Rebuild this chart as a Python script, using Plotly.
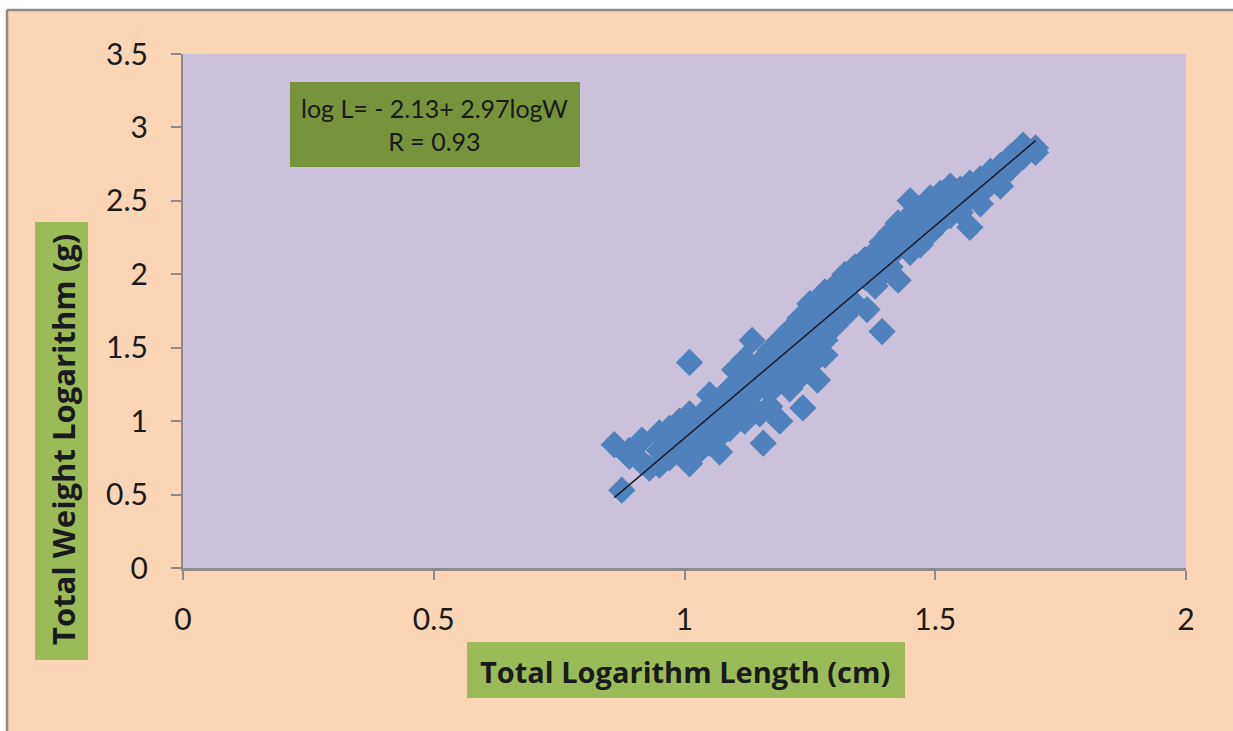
import numpy as np
import plotly.graph_objects as go

# ---- data ----
log_length = [
    0.86, 0.875, 0.89, 0.89, 0.915, 0.915, 0.93,
    0.95, 0.95, 0.95, 0.97, 0.97, 0.97, 0.99, 0.99, 0.99,
    1.01, 1.01, 1.01, 1.01, 1.01, 1.03, 1.03, 1.03,
    1.05, 1.05, 1.05, 1.05, 1.07, 1.07, 1.07, 1.07,
    1.09, 1.09, 1.09, 1.10, 1.10,
    1.12, 1.12, 1.12, 1.12, 1.135, 1.135, 1.135,
    1.15, 1.15, 1.15, 1.157, 1.17, 1.17, 1.17, 1.17,
    1.19, 1.19, 1.19, 1.19, 1.21, 1.21, 1.21, 1.21,
    1.23, 1.23, 1.23, 1.23, 1.236, 1.25, 1.25, 1.25, 1.25,
    1.265, 1.265, 1.265, 1.28, 1.28, 1.28, 1.28,
    1.30, 1.30, 1.30, 1.32, 1.32, 1.32, 1.34, 1.34, 1.34,
    1.36, 1.36, 1.364, 1.38, 1.38, 1.38, 1.394, 1.394, 1.394,
    1.41, 1.41, 1.41, 1.426, 1.426, 1.426,
    1.45, 1.45, 1.45, 1.45, 1.47, 1.47, 1.47, 1.49, 1.49, 1.49,
    1.51, 1.51, 1.51, 1.53, 1.53, 1.53, 1.55, 1.55, 1.55,
    1.569, 1.569, 1.569, 1.59, 1.59, 1.59, 1.61, 1.61,
    1.63, 1.63, 1.63, 1.65, 1.65, 1.675, 1.675, 1.70, 1.70,
]
log_weight = [
    0.84, 0.53, 0.76, 0.80, 0.87, 0.72, 0.68,
    0.80, 0.92, 0.70, 0.85, 0.95, 0.75, 0.88, 1.00, 0.78,
    1.40, 0.71, 0.95, 1.05, 0.85, 0.90, 1.02, 0.80,
    1.10, 1.18, 0.95, 0.85, 1.00, 1.12, 0.79, 0.90,
    1.22, 1.05, 0.95, 1.35, 1.15,
    1.42, 1.25, 1.10, 1.00, 1.55, 1.30, 1.18,
    1.40, 1.25, 1.05, 0.85, 1.48, 1.35, 1.20, 1.10,
    1.55, 1.40, 1.28, 1.00, 1.62, 1.50, 1.35, 1.22,
    1.70, 1.55, 1.42, 1.30, 1.09, 1.80, 1.65, 1.50, 1.38,
    1.75, 1.60, 1.28, 1.88, 1.70, 1.55, 1.45,
    1.92, 1.80, 1.65, 2.00, 1.85, 1.72, 2.05, 1.95, 1.80,
    2.10, 1.98, 1.76, 2.15, 2.05, 1.92, 2.22, 1.61, 2.00,
    2.28, 2.12, 2.05, 1.96, 2.20, 2.35,
    2.50, 2.40, 2.28, 2.15, 2.45, 2.35, 2.20, 2.52, 2.40, 2.28,
    2.55, 2.45, 2.35, 2.60, 2.50, 2.40, 2.58, 2.48, 2.42,
    2.32, 2.62, 2.52, 2.65, 2.55, 2.48, 2.70, 2.62,
    2.74, 2.68, 2.60, 2.80, 2.72, 2.88, 2.80, 2.86, 2.83,
]
x_ticks = [0, 0.5, 1, 1.5, 2]
x_tick_text = ["0", "0.5", "1", "1.5", "2"]
y_ticks = [0, 0.5, 1, 1.5, 2, 2.5, 3, 3.5]
y_tick_text = ["0", "0.5", "1", "1.5", "2", "2.5", "3", "3.5"]
x_title = "Total Logarithm Length (cm)"
y_title = "Total Weight Logarithm (g)"
equation_text = "log L= - 2.13+ 2.97logW<br>R = 0.93"

# ---- trend line (least squares on the data) ----
xa = np.array(log_length)
ya = np.array(log_weight)
slope, intercept = np.polyfit(xa, ya, 1)
trend_x = np.array([xa.min(), xa.max()])
trend_y = intercept + slope * trend_x

PEACH = "#FCD5B5"
LAVENDER = "#CCC1DA"
BLUE = "#4F81BD"
GREEN_DARK = "#77933C"
GREEN = "#9BBB59"
GRAY = "#8C8C8C"
TICKFONT = dict(family="Lato, Calibri, sans-serif", size=30, color="#1A1A1A")

fig = go.Figure()
fig.add_trace(go.Scatter(
    x=log_length, y=log_weight, mode="markers",
    marker=dict(symbol="diamond", size=21, color=BLUE, line=dict(width=0)),
    hoverinfo="skip", showlegend=False,
))
fig.add_trace(go.Scatter(
    x=trend_x, y=trend_y, mode="lines",
    line=dict(color="#1B1B2B", width=1.5),
    hoverinfo="skip", showlegend=False,
))

# pixel -> paper helpers (plot area: 183..1186 x 54..568)
L, R, T, B = 183, 1186, 54, 568
def px(xp):
    return (xp - L) / (R - L)
def py(yp):
    return (B - yp) / (B - T)

shapes = [
    # white outside strips + gray frame of the chart panel
    dict(type="rect", xref="paper", yref="paper", x0=px(-5), x1=px(1240), y0=py(10), y1=py(-5),
         fillcolor="white", line=dict(width=0), layer="above"),
    dict(type="rect", xref="paper", yref="paper", x0=px(-5), x1=px(7), y0=py(740), y1=py(-5),
         fillcolor="white", line=dict(width=0), layer="above"),
    dict(type="line", xref="paper", yref="paper", x0=px(7), x1=px(1240), y0=py(10), y1=py(10),
         line=dict(color=GRAY, width=2.5)),
    dict(type="line", xref="paper", yref="paper", x0=px(7), x1=px(7), y0=py(10), y1=py(740),
         line=dict(color=GRAY, width=2.5)),
    # equation box
    dict(type="rect", xref="paper", yref="paper", x0=px(290), x1=px(580), y0=py(167), y1=py(82),
         fillcolor=GREEN_DARK, line=dict(width=0), layer="above"),
    # y-title box
    dict(type="rect", xref="paper", yref="paper", x0=px(35), x1=px(88), y0=py(660), y1=py(222),
         fillcolor=GREEN, line=dict(width=0)),
    # x-title box
    dict(type="rect", xref="paper", yref="paper", x0=px(467), x1=px(905), y0=py(698), y1=py(642),
         fillcolor=GREEN, line=dict(width=0)),
]

annotations = [
    dict(xref="paper", yref="paper", x=px(434), y=py(125), text=equation_text,
         showarrow=False, align="center", xanchor="center", yanchor="middle",
         font=dict(family="Lato, Calibri, sans-serif", size=25, color="#1A1A1A")),
    dict(xref="paper", yref="paper", x=px(63), y=py(440), text="<b>" + y_title + "</b>",
         showarrow=False, textangle=-90, xanchor="center", yanchor="middle",
         font=dict(family="Open Sans, Verdana, sans-serif", size=31, color="#1A1A1A")),
    dict(xref="paper", yref="paper", x=px(685), y=py(671), text="<b>" + x_title + "</b>",
         showarrow=False, xanchor="center", yanchor="middle",
         font=dict(family="Open Sans, Calibri, sans-serif", size=29, color="#1A1A1A")),
]

fig.update_layout(
    width=1233, height=731,
    margin=dict(l=L, r=1233 - R, t=T, b=731 - B, pad=0),
    paper_bgcolor=PEACH, plot_bgcolor=LAVENDER,
    shapes=shapes, annotations=annotations,
    showlegend=False, hovermode=False,
)
fig.update_xaxes(
    range=[0, 2], tickvals=x_ticks, ticktext=x_tick_text,
    showgrid=False, zeroline=False,
    showline=True, linecolor=GRAY, linewidth=2.5,
    ticks="outside", ticklen=9, tickcolor=GRAY, tickwidth=1.5,
    tickfont=TICKFONT, ticklabelstandoff=14,
)
fig.update_yaxes(
    range=[0, 3.5], tickvals=y_ticks, ticktext=y_tick_text,
    showgrid=False, zeroline=False,
    showline=True, linecolor=GRAY, linewidth=2,
    ticks="outside", ticklen=10, tickcolor=GRAY, tickwidth=2,
    tickfont=TICKFONT, ticklabelstandoff=17,
)

fig.write_html(
    "out.html",
    config={"displayModeBar": False},
    post_script="document.body.style.margin='0';document.body.style.overflow='hidden';",
)
